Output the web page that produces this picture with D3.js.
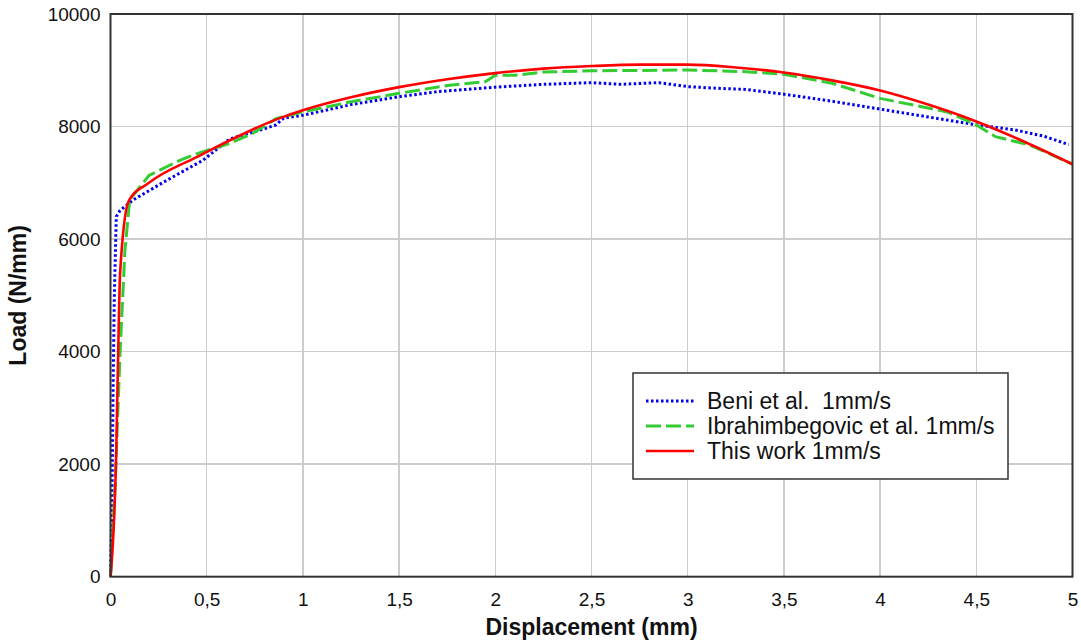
<!doctype html>
<html>
    <head>
        <style>
            body {margin:0; background:#fff;}
            svg {width:1081px; height:642px; font-family:"Liberation Sans", Arial, sans-serif;}
            .grid line {stroke:#cccccc; stroke-width:1.5; shape-rendering:crispEdges;}
            .axis path, .axis line {display:none;}
            .axis text {font-size:19px; fill:#111; font-family:"Liberation Sans", Arial, sans-serif;}
            .curve {fill:none;}
            .lgtext {white-space:pre;}
        </style>
        <script src="https://d3js.org/d3.v7.min.js"></script>
    </head>
    <body>
        <script>
            // tick values
            var xTicks = [0,0.5,1,1.5,2,2.5,3,3.5,4,4.5,5];
            var yTicks = [0,2000,4000,6000,8000,10000];

            // Beni et al. 1mm/s  [displacement, load]
            var beni = [[0,0],[0.008,1500],[0.014,3500],[0.02,5000],[0.03,6400],[0.05,6510],[0.12,6700],
                [0.28,7020],[0.48,7400],[0.62,7780],[0.8,7960],[0.86,8030],[0.9,8150],[1,8200],
                [1.25,8390],[1.5,8530],[1.7,8620],[2,8700],[2.25,8750],[2.5,8780],[2.65,8750],
                [2.85,8780],[3,8710],[3.15,8680],[3.3,8660],[3.5,8575],[3.75,8450],[4,8310],
                [4.25,8170],[4.5,8030],[4.7,7940],[4.85,7830],[4.98,7680]];

            // Ibrahimbegovic et al. 1mm/s
            var ibra = [[0,0],[0.012,800],[0.025,1700],[0.04,3100],[0.05,4000],[0.075,5800],[0.1,6700],
                [0.2,7130],[0.36,7400],[0.45,7520],[0.62,7700],[0.74,7880],[0.86,8140],[1,8260],
                [1.25,8440],[1.5,8590],[1.75,8730],[1.95,8800],[2,8910],[2.1,8910],[2.25,8970],
                [2.5,8990],[3,9005],[3.3,8975],[3.5,8930],[3.75,8770],[4,8500],[4.35,8260],
                [4.5,8030],[4.6,7820],[4.78,7670],[5,7330]];

            // This work 1mm/s
            var thisWork = [[0,0],[0.03,2250],[0.04,4000],[0.05,5400],[0.095,6680],[0.2,7000],
                [0.45,7460],[0.88,8150],[1,8290],[1.25,8520],[1.5,8700],[1.75,8840],[2,8950],
                [2.25,9030],[2.5,9075],[2.75,9100],[3,9100],[3.25,9050],[3.5,8960],[3.75,8820],
                [4,8640],[4.25,8390],[4.5,8090],[4.75,7730],[5,7330]];

            var seriesNames = ["Beni et al.  1mm/s","Ibrahimbegovic et al. 1mm/s","This work 1mm/s"];

            var styles = [
                {data:beni, color:"#0000ee", dash:"2.5,2.5", width:3, curve:d3.curveLinear},
                {data:ibra, color:"#33cc33", dash:"15,5", width:3, curve:d3.curveLinear},
                {data:thisWork, color:"#ff0000", dash:null, width:2.6, curve:d3.curveMonotoneX}
            ];

            //plot box (avoid window.top clash)
            var pLeft=110.5, pRight=1072.5, pTop=14, pBottom=576.7;

            var svg = d3.select("body").append("svg");

            var x = d3.scaleLinear().domain([0,5]).range([pLeft,pRight]);
            var y = d3.scaleLinear().domain([0,10000]).range([pBottom,pTop]);

            //grid
            var grid = svg.append("g").attr("class","grid");
            grid.selectAll(".gx").data(xTicks).enter().append("line")
                .attr("x1",function(d){return x(d)}).attr("x2",function(d){return x(d)})
                .attr("y1",pTop).attr("y2",pBottom);
            grid.selectAll(".gy").data(yTicks).enter().append("line")
                .attr("y1",function(d){return y(d)}).attr("y2",function(d){return y(d)})
                .attr("x1",pLeft).attr("x2",pRight);

            //axes labels
            var fmt = function(d){return String(d).replace(".",",")};
            svg.append("g").attr("class","axis")
                .attr("transform","translate(0,"+pBottom+")")
                .call(d3.axisBottom(x).tickValues(xTicks).tickFormat(fmt).tickSize(0).tickPadding(16));
            svg.append("g").attr("class","axis")
                .attr("transform","translate("+pLeft+",0)")
                .call(d3.axisLeft(y).tickValues(yTicks).tickFormat(function(d){return d}).tickSize(0).tickPadding(10));

            //curves
            svg.append("g").selectAll("path")
                .data(styles)
                .enter()
                .append("path")
                .attr("class","curve")
                .attr("d",function(d){
                    return d3.line().curve(d.curve)
                        .x(function(p){return x(p[0])})
                        .y(function(p){return y(p[1])})(d.data);
                })
                .attr("stroke",function(d){return d.color})
                .attr("stroke-width",function(d){return d.width})
                .attr("stroke-dasharray",function(d){return d.dash});

            //frame
            svg.append("rect")
                .attr("x",pLeft).attr("y",pTop).attr("width",pRight-pLeft).attr("height",pBottom-pTop)
                .attr("fill","none").attr("stroke","#333").attr("stroke-width",2);

            //axis titles
            svg.append("text").text("Displacement (mm)")
                .attr("x",(pLeft+pRight)/2).attr("y",635).attr("text-anchor","middle")
                .attr("font-size",23).attr("font-weight","bold").attr("fill","#111");
            svg.append("text").text("Load (N/mm)")
                .attr("transform","translate(26,"+((pTop+pBottom)/2)+") rotate(-90)")
                .attr("text-anchor","middle")
                .attr("font-size",23).attr("font-weight","bold").attr("fill","#111");

            //legend
            var lg = svg.append("g").attr("transform","translate(633,373)");
            lg.append("rect").attr("width",375).attr("height",106)
                .attr("fill","#fff").attr("stroke","#333").attr("stroke-width",1.5);
            var items = lg.selectAll(".item").data(styles).enter().append("g")
                .attr("transform",function(d,i){return "translate(0,"+(28+i*25)+")"});
            items.append("line").attr("x1",13).attr("x2",61).attr("y1",0).attr("y2",0)
                .attr("stroke",function(d){return d.color})
                .attr("stroke-width",function(d){return d.width})
                .attr("stroke-dasharray",function(d){return d.dash});
            items.append("text").attr("class","lgtext").text(function(d,i){return seriesNames[i]})
                .attr("x",74).attr("y",8).attr("font-size",23).attr("fill","#111");
        </script>
    </body>
</html>
